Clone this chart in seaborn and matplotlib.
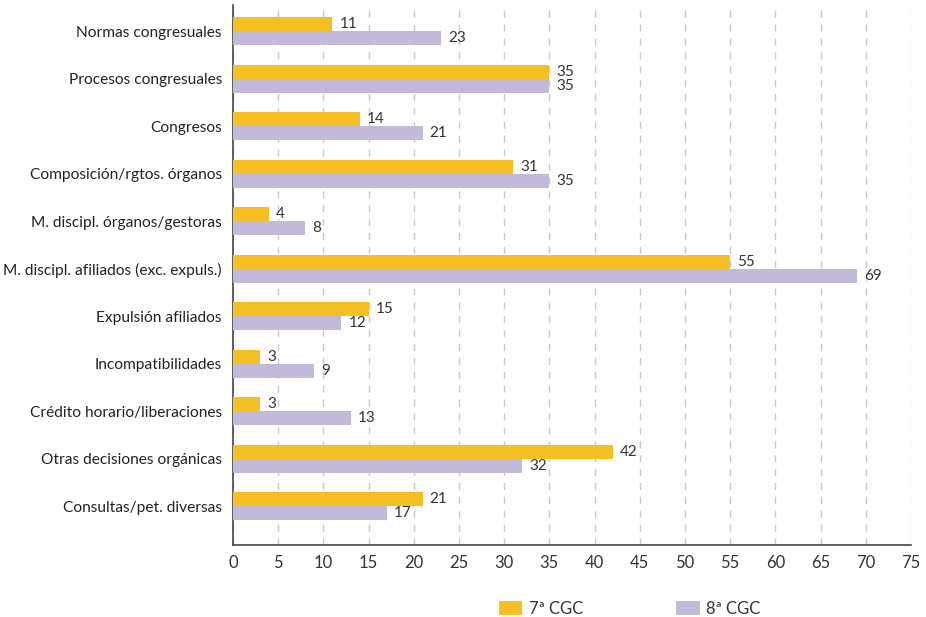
import pandas as pd
import matplotlib.pyplot as plt
import seaborn as sns

categorias = ["Normas congresuales", "Procesos congresuales", "Congresos",
              "Composición/rgtos. órganos", "M. discipl. órganos/gestoras",
              "M. discipl. afiliados (exc. expuls.)", "Expulsión afiliados",
              "Incompatibilidades", "Crédito horario/liberaciones",
              "Otras decisiones orgánicas", "Consultas/pet. diversas"]
cgc7 = [11, 35, 14, 31, 4, 55, 15, 3, 3, 42, 21]
cgc8 = [23, 35, 21, 35, 8, 69, 12, 9, 13, 32, 17]
series = ["7ª CGC", "8ª CGC"]
colores = ["#F6C024", "#C3BADA"]

df = pd.DataFrame({"cat": categorias * 2,
                   "valor": cgc7 + cgc8,
                   "serie": [series[0]] * len(categorias) + [series[1]] * len(categorias)})

sns.set_style("white")
plt.rcParams['font.family'] = ['Lato', 'DejaVu Sans']

fig = plt.figure(figsize=(9.26, 6.17), dpi=100)
ax = fig.add_axes([233 / 926, 1 - 545 / 617, (911 - 233) / 926, (545 - 5) / 617])

sns.barplot(data=df, x="valor", y="cat", hue="serie", orient="h",
            palette=colores, width=0.59, saturation=1, linewidth=0,
            ax=ax, zorder=3)

for cont in ax.containers:
    ax.bar_label(cont, padding=5, fontsize=11, color="#333333")

ax.set_xlim(0, 75)
ax.set_ylim(10.82, -0.55)
ax.set_xticks(range(0, 80, 5))
ax.xaxis.grid(True, linestyle=(0, (5, 5)), color="#c8c8c8", linewidth=1, zorder=0)
ax.set_axisbelow(True)
ax.tick_params(axis="x", labelsize=12, colors="#333333", length=0, pad=7)
ax.tick_params(axis="y", labelsize=11.2, colors="#222222", length=0, pad=8)
ax.set_xlabel("")
ax.set_ylabel("")
for s in ["top", "right"]:
    ax.spines[s].set_visible(False)
ax.spines["left"].set_color("#444444")
ax.spines["bottom"].set_color("#444444")
ax.spines["left"].set_linewidth(1.2)
ax.spines["bottom"].set_linewidth(1.2)

ax.legend(loc="upper center", bbox_to_anchor=(0.585, -0.075), ncol=2, frameon=False,
          fontsize=12, handlelength=1.4, handleheight=0.9, columnspacing=5.6,
          handletextpad=0.4, labelcolor="#333333")

fig.savefig("out.png", dpi=100)
